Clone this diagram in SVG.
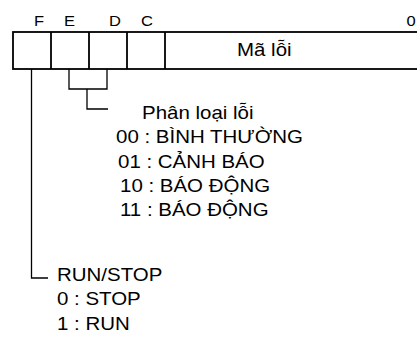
<svg xmlns="http://www.w3.org/2000/svg" width="417" height="338" viewBox="0 0 417 338">
<style>
text{font-family:"Liberation Sans",Arial,sans-serif;font-size:17.5px;fill:#000}
text.lbl{font-size:15px}
.box{fill:#fff;stroke:#000;stroke-width:1.8}
.ln{fill:none;stroke:#000;stroke-width:1.3}
</style>
<rect width="417" height="338" fill="#fff"/>
<g id="register">
<rect class="box" x="13" y="32" width="420" height="37"/>
<line class="box" x1="51" y1="32" x2="51" y2="69"/>
<line class="box" x1="89" y1="32" x2="89" y2="69"/>
<line class="box" x1="127" y1="32" x2="127" y2="69"/>
<line class="box" x1="165" y1="32" x2="165" y2="69"/>
<text transform="translate(237,56) scale(1.17,1)">Mã lỗi</text>
</g>
<g id="bit-labels">
<text class="lbl" transform="translate(34,26) scale(1.1,1)">F</text>
<text class="lbl" transform="translate(64,26) scale(1.1,1)">E</text>
<text class="lbl" transform="translate(109,26) scale(1.1,1)">D</text>
<text class="lbl" transform="translate(141,26) scale(1.1,1)">C</text>
<text class="lbl" transform="translate(406.5,26) scale(1.1,1)">0</text>
</g>
<g id="connectors">
<polyline class="ln" points="69,69 69,89 107,89 107,69"/>
<polyline class="ln" points="87,89 87,109 108,109"/>
<polyline class="ln" points="31.5,69 31.5,278 48,278"/>
</g>
<g id="classification">
<text transform="translate(142,119) scale(1.17,1)">Phân loại lỗi</text>
<text transform="translate(116,143) scale(1.17,1)">00 : BÌNH THƯỜNG</text>
<text transform="translate(118,168) scale(1.17,1)">01 : CẢNH BÁO</text>
<text transform="translate(120,192) scale(1.17,1)">10 : BÁO ĐỘNG</text>
<text transform="translate(120,216) scale(1.17,1)">11 : BÁO ĐỘNG</text>
</g>
<g id="runstop">
<text transform="translate(57,280.5) scale(1.17,1)">RUN/STOP</text>
<text transform="translate(57,305) scale(1.17,1)">0 : STOP</text>
<text transform="translate(57,330) scale(1.17,1)">1 : RUN</text>
</g>
</svg>
